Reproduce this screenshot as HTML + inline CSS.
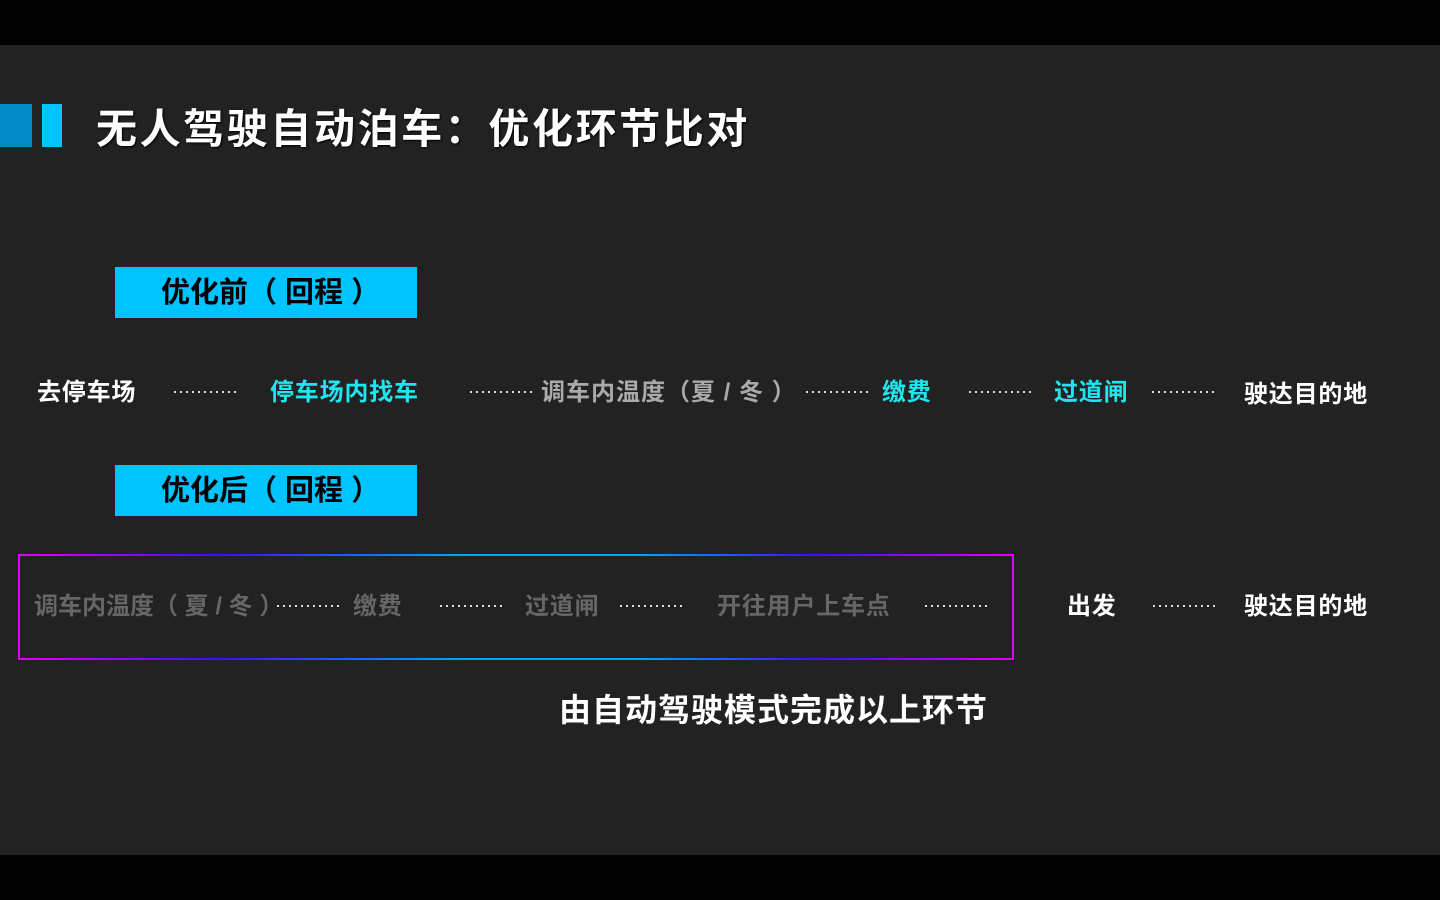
<!DOCTYPE html>
<html><head><meta charset="utf-8"><style>
body{margin:0;width:1440px;height:900px;background:#000;overflow:hidden;font-family:"Liberation Sans","Noto Sans CJK SC",sans-serif;}
#s{position:absolute;left:0;top:45px;width:1440px;height:810px;background:#222;}
.t{position:absolute;white-space:nowrap;height:40px;line-height:40px;font-size:24px;font-weight:bold;letter-spacing:0.8px;}
.d{position:absolute;height:2px;width:62px;background:repeating-linear-gradient(90deg,#ddd 0 2px,transparent 2px 6px);}
.w{color:#fff}.c{color:#1ee6f0}.g{color:#aaa}.k{color:#666}
.lab{position:absolute;left:115px;width:302px;height:51px;background:#00c4ff;color:#000;font-size:29px;line-height:53px;font-weight:bold;}
</style></head><body>
<div id="s"></div>
<div style="position:absolute;left:0;top:104px;width:32px;height:43px;background:#0089c4"></div>
<div style="position:absolute;left:42px;top:104px;width:20px;height:43px;background:#00c4ff"></div>
<div style="position:absolute;left:96px;top:104px;height:50px;line-height:50px;font-size:41px;font-weight:bold;color:#fff;white-space:nowrap;letter-spacing:2.6px;text-shadow:1px 1px 2px #000">无人驾驶自动泊车：优化环节比对</div>
<div class="lab" style="top:267px"><span style="margin-left:46px">优化前（ 回程 ）</span></div>
<div class="lab" style="top:465px"><span style="margin-left:46px">优化后（ 回程 ）</span></div>

<div class="t w" style="left:37px;top:373px">去停车场</div>
<div class="d" style="left:174px;top:391px"></div>
<div class="t c" style="left:270px;top:373px">停车场内找车</div>
<div class="d" style="left:470px;top:391px"></div>
<div class="t g" style="left:541px;top:373px;letter-spacing:1px">调车内温度（夏 / 冬 ）</div>
<div class="d" style="left:806px;top:391px"></div>
<div class="t c" style="left:882px;top:373px">缴费</div>
<div class="d" style="left:969px;top:391px"></div>
<div class="t c" style="left:1054px;top:373px">过道闸</div>
<div class="d" style="left:1152px;top:391px"></div>
<div class="t w" style="left:1244px;top:375px">驶达目的地</div>

<svg style="position:absolute;left:0;top:0" width="1440" height="900">
<defs><linearGradient id="gr" x1="0" x2="1" y1="0" y2="0">
<stop offset="0" stop-color="#e000ff"/><stop offset="0.2" stop-color="#3a10f0"/><stop offset="0.45" stop-color="#00a8ff"/><stop offset="0.62" stop-color="#00a8ff"/><stop offset="0.8" stop-color="#3a10f0"/><stop offset="1" stop-color="#e000ff"/></linearGradient></defs>
<rect x="19" y="555" width="994" height="104" fill="none" stroke="url(#gr)" stroke-width="2"/>
</svg>
<div class="t k" style="left:34px;top:587px;letter-spacing:0">调车内温度（ 夏 / 冬 ）</div>
<div class="d" style="left:277px;top:605px"></div>
<div class="t k" style="left:353px;top:587px">缴费</div>
<div class="d" style="left:440px;top:605px"></div>
<div class="t k" style="left:525px;top:587px">过道闸</div>
<div class="d" style="left:620px;top:605px"></div>
<div class="t k" style="left:717px;top:587px">开往用户上车点</div>
<div class="d" style="left:925px;top:605px"></div>
<div class="t w" style="left:1067px;top:587px">出发</div>
<div class="d" style="left:1153px;top:605px"></div>
<div class="t w" style="left:1244px;top:587px">驶达目的地</div>
<div style="position:absolute;left:559px;top:690px;height:40px;line-height:40px;font-size:32px;font-weight:bold;color:#fff;white-space:nowrap;letter-spacing:1px">由自动驾驶模式完成以上环节</div>
</body></html>
